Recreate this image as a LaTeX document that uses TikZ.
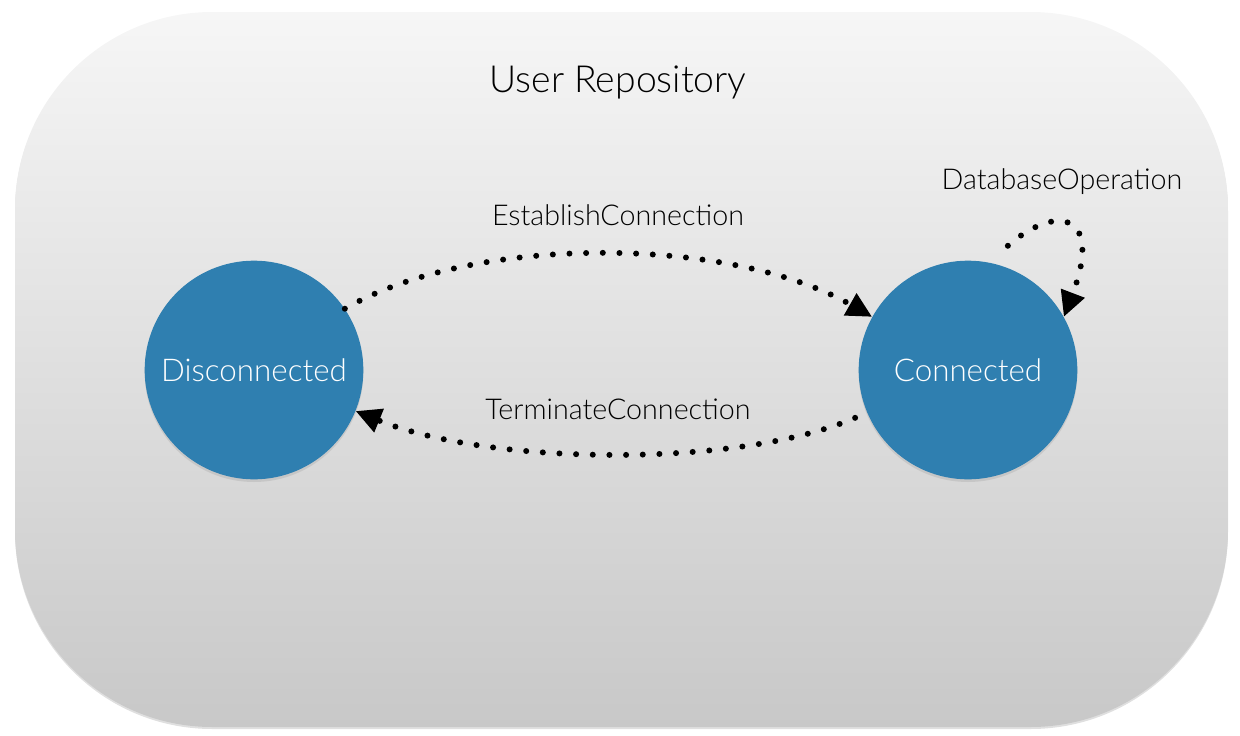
\documentclass[tikz,border=0pt]{standalone}
\usepackage{fontspec}
\setmainfont{Lato}[UprightFont={* Light}]
\usetikzlibrary{arrows.meta,shadows}
\definecolor{stateblue}{HTML}{2F7FB0}
\definecolor{bgtop}{HTML}{F6F6F6}
\definecolor{bgbot}{HTML}{C8C8C8}
\begin{document}
\begin{tikzpicture}[x=0.75pt,y=-0.75pt,
  repobox/.style={rectangle, rounded corners=148pt, top color=bgtop, bottom color=bgbot,
    minimum width=909.75pt, minimum height=536.25pt, inner sep=0pt,
    drop shadow={opacity=0.25, shadow xshift=0pt, shadow yshift=-1.5pt}},
  state/.style={circle, fill=stateblue, minimum size=164pt, inner sep=0pt, text=white,
    font=\fontsize{23.5}{28}\selectfont,
    drop shadow={opacity=0.2, shadow xshift=0pt, shadow yshift=-2pt}},
  titlelbl/.style={font=\fontsize{28}{32}\selectfont, text=black},
  lbl/.style={font=\fontsize{21.5}{25}\selectfont, text=black},
  trans/.style={line width=4.5pt, line cap=round, dash pattern=on 0pt off 12.5pt,
    -{Triangle[length=19pt,width=18pt]}},
]
\useasboundingbox (0,0) rectangle (1240,736);
\node[repobox] (repo) at (621.5,369.5) {};
\node[titlelbl] (title) at (618,82) {User Repository};
\node[state] (dis) at (254,370) {Disconnected};
\node[state] (con) at (968,370) {Connected};
\node[lbl] (estlbl) at (618,215) {EstablishConnection};
\node[lbl] (termlbl) at (618,409) {TerminateConnection};
\node[lbl] (dblbl) at (1062,182) {DatabaseOperation};
\draw[trans] (dis.34) .. controls +(130,-75) and +(-142,-81) .. (con.151);
\draw[trans] ([shift={(-12,5)}]con.203) .. controls +(-115,50) and +(135,55) .. (dis.-22);
\draw[trans] ([shift={(6,-20)}]con.72) .. controls +(48,-42) and +(40,-105) .. (con.29);
\end{tikzpicture}
\end{document}
